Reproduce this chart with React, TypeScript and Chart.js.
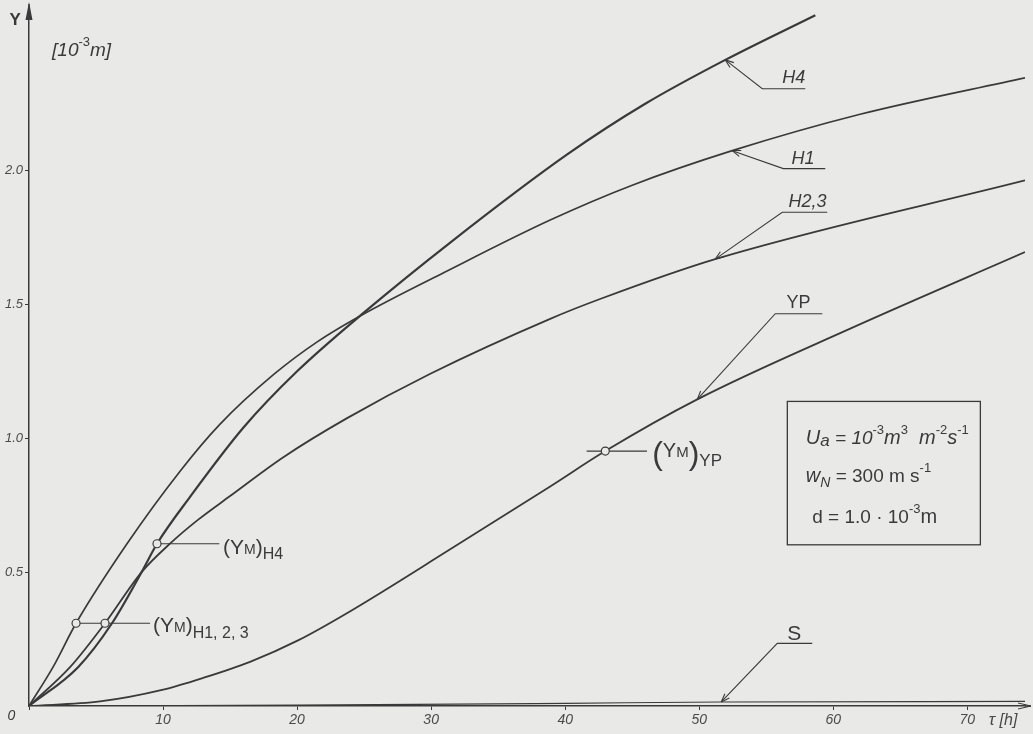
import { useEffect, useRef } from 'react';
import { Chart, registerables } from 'chart.js';

Chart.register(...registerables);

// ---- data (x in h, y in 10^-3 m) ----
const h4X = [0, 3.66, 6.19, 8.4, 9.55, 12, 16, 20, 25, 31.4, 40.15, 46, 51.94, 58.66];
const h4Y = [0, 0.145, 0.309, 0.5, 0.606, 0.78, 1.04, 1.25, 1.47, 1.73, 2.06, 2.25, 2.413, 2.58];

const h1X = [0, 1.79, 3.51, 7.31, 11.27, 14.2, 18.3, 21.5, 25, 31, 38.88, 45, 52.46, 62, 74.3];
const h1Y = [0, 0.145, 0.309, 0.606, 0.877, 1.05, 1.24, 1.36, 1.465, 1.62, 1.815, 1.945, 2.074, 2.21, 2.346];

const h23X = [0, 3.06, 5.67, 8.4, 10.6, 12.6, 15, 19, 23.73, 29.9, 38.88, 42.6, 51.19, 74.3];
const h23Y = [0, 0.145, 0.309, 0.5, 0.61, 0.695, 0.784, 0.93, 1.075, 1.24, 1.446, 1.52, 1.669, 1.963];

const ypX = [0, 5.3, 9.93, 13, 16.49, 20.07, 24, 31.42, 38.88, 42.99, 49.85, 61.3, 74.3];
const ypY = [0, 0.017, 0.06, 0.105, 0.165, 0.245, 0.355, 0.585, 0.82, 0.952, 1.145, 1.41, 1.695];

const sX = [0, 20, 40, 51.64, 74.3];
const sY = [0, 0.003, 0.01, 0.015, 0.017];

const ymX = [3.51, 5.67, 9.55, 42.99];
const ymY = [0.309, 0.309, 0.606, 0.952];

const xTicks = [0, 10, 20, 30, 40, 50, 60, 70];
const xTickLabels = ['', '10', '20', '30', '40', '50', '60', '70'];
const yTicks = [0.5, 1.0, 1.5, 2.0];
const yTickLabels = ['0.5', '1.0', '1.5', '2.0'];

const X_MAX = 74.3;
const Y_MAX = 2.6;

const INK = '#3a3a3a';
const PAPER = '#e9e9e7';
const FAMILY = '"Liberation Sans", "DejaVu Sans", Arial, sans-serif';

type Run = { t: string; s: number; dy?: number; it?: boolean; b?: boolean };

const fontOf = (r: Run) => `${r.it ? 'italic ' : ''}${r.b ? 'bold ' : ''}${r.s}px ${FAMILY}`;

function drawRuns(ctx: CanvasRenderingContext2D, x: number, y: number, list: Run[], align: 'left' | 'right' = 'left') {
  let w = 0;
  for (const r of list) {
    ctx.font = fontOf(r);
    w += ctx.measureText(r.t).width;
  }
  let cx = align === 'right' ? x - w : x;
  ctx.textAlign = 'left';
  ctx.textBaseline = 'alphabetic';
  for (const r of list) {
    ctx.font = fontOf(r);
    ctx.fillText(r.t, cx, y + (r.dy || 0));
    cx += ctx.measureText(r.t).width;
  }
}

// leader lines: [tipX, tipY, bendX, bendY, endX, endY] in data units
const leaders: { pts: number[]; label: Run[]; lx: number; ly: number }[] = [
  { pts: [51.94, 2.413, 54.7, 2.305, 57.91, 2.305], label: [{ t: 'H4', s: 18, it: true }], lx: 57.91, ly: 2.325 },
  { pts: [52.46, 2.074, 56.27, 2.007, 59.4, 2.007], label: [{ t: 'H1', s: 18, it: true }], lx: 58.6, ly: 2.025 },
  { pts: [51.19, 1.669, 56.19, 1.844, 59.55, 1.844], label: [{ t: 'H2,3', s: 18, it: true }], lx: 59.5, ly: 1.862 },
  { pts: [49.85, 1.145, 55.67, 1.465, 59.18, 1.465], label: [{ t: 'YP', s: 18 }], lx: 58.3, ly: 1.488 },
  { pts: [51.64, 0.015, 55.82, 0.234, 58.43, 0.234], label: [{ t: 'S', s: 21 }], lx: 57.6, ly: 0.245 },
];

// horizontal marker lines for (Y_M): [x1, x2, y]
const ymLines = [
  [3.51, 9.03, 0.309],
  [9.55, 14.2, 0.606],
  [41.6, 46.1, 0.952],
];

const annotPlugin = {
  id: 'annot',
  beforeDraw(chart: any) {
    const ctx = chart.ctx as CanvasRenderingContext2D;
    ctx.save();
    ctx.fillStyle = PAPER;
    ctx.fillRect(0, 0, chart.width, chart.height);
    ctx.restore();
  },
  beforeDatasetsDraw(chart: any) {
    const ctx = chart.ctx as CanvasRenderingContext2D;
    const xs = chart.scales.x;
    const ys = chart.scales.y;
    ctx.save();
    ctx.strokeStyle = INK;
    ctx.lineWidth = 1.1;
    for (const [a, b, y] of ymLines) {
      ctx.beginPath();
      ctx.moveTo(xs.getPixelForValue(a), ys.getPixelForValue(y));
      ctx.lineTo(xs.getPixelForValue(b), ys.getPixelForValue(y));
      ctx.stroke();
    }
    ctx.restore();
  },
  afterDraw(chart: any) {
    const ctx = chart.ctx as CanvasRenderingContext2D;
    const xs = chart.scales.x;
    const ys = chart.scales.y;
    const px = (v: number) => xs.getPixelForValue(v);
    const py = (v: number) => ys.getPixelForValue(v);
    const area = chart.chartArea;
    ctx.save();
    ctx.strokeStyle = INK;
    ctx.fillStyle = INK;

    // axis arrows
    const ax = area.left;
    ctx.beginPath();
    ctx.moveTo(ax, area.top);
    ctx.lineTo(ax, 4);
    ctx.lineWidth = 1.5;
    ctx.stroke();
    ctx.beginPath();
    ctx.moveTo(ax, 2);
    ctx.lineTo(ax - 3.5, 20);
    ctx.lineTo(ax + 3.5, 20);
    ctx.closePath();
    ctx.fill();
    const by = area.bottom;
    ctx.beginPath();
    ctx.moveTo(area.right, by);
    ctx.lineTo(1031, by);
    ctx.stroke();
    ctx.lineWidth = 1;
    ctx.beginPath();
    ctx.moveTo(1031, by);
    ctx.lineTo(1018, by - 3);
    ctx.moveTo(1031, by);
    ctx.lineTo(1018, by + 3);
    ctx.stroke();

    // leaders
    ctx.lineWidth = 1.1;
    for (const l of leaders) {
      const [tx, ty, bx, byy, ex, ey] = l.pts;
      const TX = px(tx), TY = py(ty), BX = px(bx), BY = py(byy), EX = px(ex), EY = py(ey);
      ctx.beginPath();
      ctx.moveTo(EX, EY);
      ctx.lineTo(BX, BY);
      ctx.lineTo(TX, TY);
      ctx.stroke();
      const ang = Math.atan2(BY - TY, BX - TX);
      ctx.beginPath();
      for (const d of [-0.35, 0.35]) {
        ctx.moveTo(TX, TY);
        ctx.lineTo(TX + 9 * Math.cos(ang + d), TY + 9 * Math.sin(ang + d));
      }
      ctx.stroke();
      drawRuns(ctx, px(l.lx), py(l.ly), l.label, 'right');
    }

    // (Y_M) labels
    drawRuns(ctx, px(9.25), py(0.275), [
      { t: '(Y', s: 21 },
      { t: 'M', s: 14 },
      { t: ')', s: 21 },
      { t: 'H1, 2, 3', s: 16, dy: 6 },
    ]);
    drawRuns(ctx, px(14.48), py(0.569), [
      { t: '(Y', s: 21 },
      { t: 'M', s: 14 },
      { t: ')', s: 21 },
      { t: 'H4', s: 16, dy: 5 },
    ]);
    drawRuns(ctx, px(46.49), py(0.93), [
      { t: '(', s: 32, dy: 7 },
      { t: 'Y', s: 20 },
      { t: 'M', s: 15 },
      { t: ')', s: 32, dy: 7 },
      { t: 'YP', s: 17, dy: 9 },
    ]);

    // parameter box
    const bx1 = px(56.57), bx2 = px(70.97), by1 = py(1.1375), by2 = py(0.602);
    ctx.lineWidth = 1.3;
    ctx.strokeRect(bx1, by1, bx2 - bx1, by2 - by1);
    drawRuns(ctx, px(57.95), py(0.978), [
      { t: 'U', s: 20, it: true },
      { t: 'a', s: 17, it: true, dy: 2 },
      { t: ' = 10', s: 19, it: true },
      { t: '-3', s: 13, dy: -10 },
      { t: 'm', s: 20, it: true },
      { t: '3', s: 13, dy: -10 },
      { t: '  m', s: 20, it: true },
      { t: '-2', s: 13, dy: -10 },
      { t: 's', s: 20, it: true },
      { t: '-1', s: 13, dy: -10 },
    ]);
    drawRuns(ctx, px(57.95), py(0.836), [
      { t: 'w', s: 20, it: true },
      { t: 'N', s: 14, it: true, dy: 5 },
      { t: ' = 300 m s', s: 19 },
      { t: '-1', s: 13, dy: -10 },
    ]);
    drawRuns(ctx, px(58.43), py(0.684), [
      { t: 'd = 1.0 · 10', s: 19 },
      { t: '-3', s: 13, dy: -10 },
      { t: 'm', s: 20 },
    ]);

    // axis labels
    drawRuns(ctx, px(-1.45), py(2.545), [{ t: 'Y', s: 17, b: true }]);
    drawRuns(ctx, px(1.72), py(2.428), [
      { t: '[10', s: 19, it: true },
      { t: '-3', s: 13, dy: -10 },
      { t: 'm]', s: 19, it: true },
    ]);
    drawRuns(ctx, px(-1.6), py(-0.052), [{ t: '0', s: 14, it: true }]);
    ctx.fillStyle = '#4a4a4a';
    drawRuns(ctx, px(71.6), py(-0.07), [
      { t: 'τ', s: 17, it: true },
      { t: ' [h]', s: 16, it: true },
    ]);
    ctx.restore();
  },
};

const toPts = (xs: number[], ys: number[]) => xs.map((x, i) => ({ x, y: ys[i] }));

export default function App() {
  const ref = useRef<HTMLCanvasElement | null>(null);

  useEffect(() => {
    document.body.style.margin = '0';
    const canvas = ref.current;
    if (!canvas) return;
    const line = (data: { x: number; y: number }[], w: number) => ({
      data,
      borderColor: INK,
      borderWidth: w,
      pointRadius: 0,
      fill: false,
      cubicInterpolationMode: 'monotone' as const,
      showLine: true,
      order: 1,
    });
    const chart = new Chart(canvas, {
      type: 'line',
      data: {
        datasets: [
          { label: 'H4', ...line(toPts(h4X, h4Y), 2.2) },
          { label: 'H1', ...line(toPts(h1X, h1Y), 1.7) },
          { label: 'H2,3', ...line(toPts(h23X, h23Y), 1.8) },
          { label: 'YP', ...line(toPts(ypX, ypY), 1.8) },
          { label: 'S', ...line(toPts(sX, sY), 1.2) },
          {
            label: 'YM',
            data: toPts(ymX, ymY),
            showLine: false,
            pointRadius: 4,
            pointBorderWidth: 1.2,
            pointBackgroundColor: PAPER,
            pointBorderColor: INK,
            pointStyle: 'circle',
            order: 0,
          },
        ],
      } as any,
      options: {
        responsive: false,
        animation: false,
        events: [],
        layout: { padding: { top: 7, right: 8, left: 0, bottom: 0 }, autoPadding: false },
        plugins: { legend: { display: false }, tooltip: { enabled: false } },
        scales: {
          x: {
            type: 'linear',
            min: 0,
            max: X_MAX,
            afterBuildTicks: (s: any) => {
              s.ticks = xTicks.map((v) => ({ value: v }));
            },
            afterFit: (s: any) => {
              s.height = 28;
            },
            border: { display: true, color: INK, width: 1.5 },
            grid: { drawOnChartArea: false, drawTicks: true, tickLength: 4, color: INK, lineWidth: 1 },
            ticks: {
              color: '#4a4a4a',
              font: { family: FAMILY, size: 14, style: 'italic' },
              padding: 2,
              autoSkip: false,
              maxRotation: 0,
              callback: (_v: any, i: number) => xTickLabels[i],
            },
          },
          y: {
            type: 'linear',
            min: 0,
            max: Y_MAX,
            afterBuildTicks: (s: any) => {
              s.ticks = yTicks.map((v) => ({ value: v }));
            },
            afterFit: (s: any) => {
              s.width = 29;
            },
            border: { display: true, color: INK, width: 1.5 },
            grid: { drawOnChartArea: false, drawTicks: true, tickLength: 4, color: INK, lineWidth: 1 },
            ticks: {
              color: '#4a4a4a',
              font: { family: FAMILY, size: 13, style: 'italic' },
              padding: 2,
              autoSkip: false,
              callback: (_v: any, i: number) => yTickLabels[i],
            },
          },
        },
      } as any,
      plugins: [annotPlugin],
    });
    return () => chart.destroy();
  }, []);

  return (
    <div style={{ width: 1033, height: 734 }}>
      <canvas ref={ref} width={1033} height={734} />
    </div>
  );
}
